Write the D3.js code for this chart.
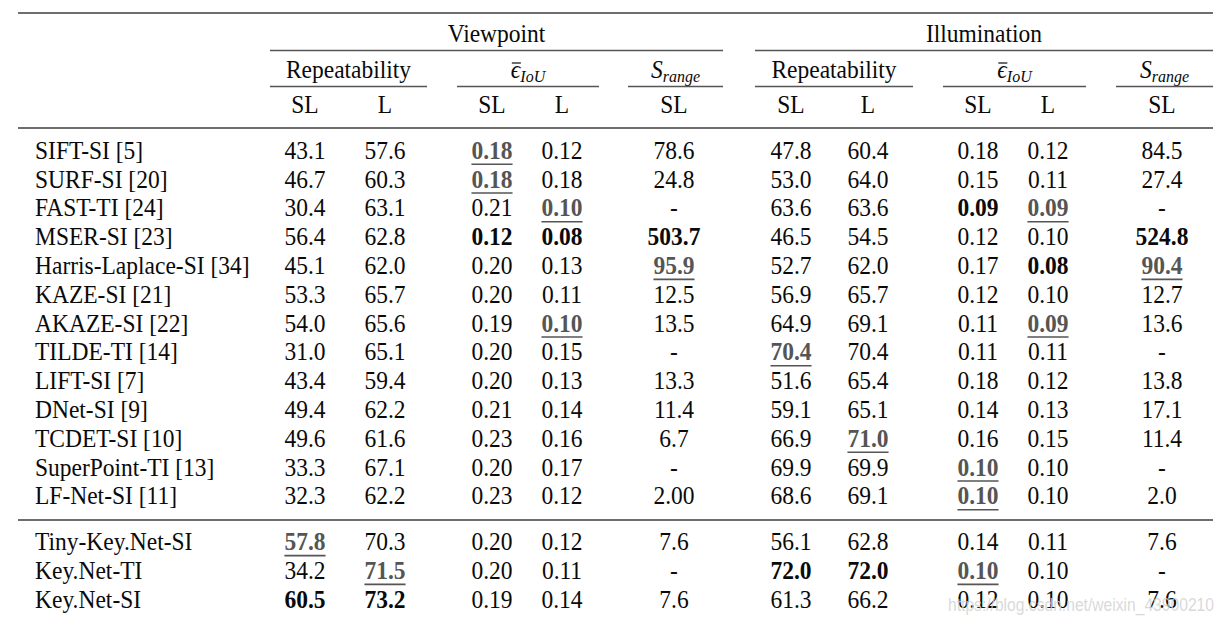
<!DOCTYPE html>
<html><head><meta charset="utf-8">
<script src="https://cdn.jsdelivr.net/npm/d3@7"></script>
<style>html,body{margin:0;padding:0;background:#fff;}svg{display:block;}</style>
</head><body>
<svg id="chart" width="1227" height="625"></svg>
<script>
// ---------- data ----------
const methods = ["SIFT-SI [5]","SURF-SI [20]","FAST-TI [24]","MSER-SI [23]","Harris-Laplace-SI [34]","KAZE-SI [21]","AKAZE-SI [22]","TILDE-TI [14]","LIFT-SI [7]","DNet-SI [9]","TCDET-SI [10]","SuperPoint-TI [13]","LF-Net-SI [11]","Tiny-Key.Net-SI","Key.Net-TI","Key.Net-SI"];
const viewRepSL  = ["43.1","46.7","30.4","56.4","45.1","53.3","54.0","31.0","43.4","49.4","49.6","33.3","32.3","57.8","34.2","60.5"];
const viewRepL   = ["57.6","60.3","63.1","62.8","62.0","65.7","65.6","65.1","59.4","62.2","61.6","67.1","62.2","70.3","71.5","73.2"];
const viewIouSL  = ["0.18","0.18","0.21","0.12","0.20","0.20","0.19","0.20","0.20","0.21","0.23","0.20","0.23","0.20","0.20","0.19"];
const viewIouL   = ["0.12","0.18","0.10","0.08","0.13","0.11","0.10","0.15","0.13","0.14","0.16","0.17","0.12","0.12","0.11","0.14"];
const viewSrange = ["78.6","24.8","-","503.7","95.9","12.5","13.5","-","13.3","11.4","6.7","-","2.00","7.6","-","7.6"];
const illRepSL   = ["47.8","53.0","63.6","46.5","52.7","56.9","64.9","70.4","51.6","59.1","66.9","69.9","68.6","56.1","72.0","61.3"];
const illRepL    = ["60.4","64.0","63.6","54.5","62.0","65.7","69.1","70.4","65.4","65.1","71.0","69.9","69.1","62.8","72.0","66.2"];
const illIouSL   = ["0.18","0.15","0.09","0.12","0.17","0.12","0.11","0.11","0.18","0.14","0.16","0.10","0.10","0.14","0.10","0.12"];
const illIouL    = ["0.12","0.11","0.09","0.10","0.08","0.10","0.09","0.11","0.12","0.13","0.15","0.10","0.10","0.11","0.10","0.10"];
const illSrange  = ["84.5","27.4","-","524.8","90.4","12.7","13.6","-","13.8","17.1","11.4","-","2.0","7.6","-","7.6"];
const columns = [viewRepSL, viewRepL, viewIouSL, viewIouL, viewSrange, illRepSL, illRepL, illIouSL, illIouL, illSrange];
const colHeads = ["SL","L","SL","L","SL","SL","L","SL","L","SL"];
const groups = ["Viewpoint","Illumination"];
// best result (bold) and second best (underlined), as [row, column]
const bestCells = [[3,2],[3,3],[3,4],[3,9],[2,7],[4,8],[14,5],[14,6],[15,0],[15,1]];
const secondCells = [[0,2],[1,2],[2,3],[6,3],[4,4],[4,9],[2,8],[6,8],[7,5],[10,6],[11,7],[12,7],[13,0],[14,1],[14,7]];
const watermark = "https://blog.csdn.net/weixin_43900210";

// ---------- layout ----------
const svg = d3.select("#chart");
const FONT = "'Liberation Serif','Times New Roman',Times,serif";
const FS = 23.5;
const SY = 1.1; // glyphs in the source are slightly taller than wide
const colIdx = d3.range(columns.length);
const x = d3.scaleOrdinal().domain(colIdx).range([305,385,492,562,674,791,868,978,1048,1162]);
const yBase = d3.scaleLinear().domain([0,12]).range([151.7,497.3]);
const y = i => yBase(i) + (i >= 13 ? 17 : 0);
const ruleL = 18, ruleR = 1213;
const ruleColor = "#6e6e6e", grey = "#555", ink = "#0a0a0a";
const tf = (tx,ty) => `translate(${tx},${ty}) scale(1,${SY})`;

function hline(x1,x2,yy,w,c){
  svg.append("line").attr("x1",x1).attr("x2",x2).attr("y1",yy).attr("y2",yy)
    .attr("stroke",c||ruleColor).attr("stroke-width",w||2);
}
hline(ruleL,ruleR,13,2);
hline(ruleL,ruleR,128,2);
hline(ruleL,ruleR,520,2);

// group headers
const groupSpans = [[270,723],[755,1213]];
groups.forEach((g,i)=>{
  const s = groupSpans[i];
  svg.append("text").attr("transform",tf((s[0]+s[1])/2,42)).attr("text-anchor","middle")
    .attr("font-family",FONT).attr("font-size",FS).attr("fill",ink).text(g);
  hline(s[0],s[1],50.5,1.6,grey);
});

// metric headers
const metricSpans = [[270,427,"rep"],[457,599,"iou"],[628,723,"sr"],[755,913,"rep"],[943,1086,"iou"],[1116,1213,"sr"]];
metricSpans.forEach(m=>{
  const cx=(m[0]+m[1])/2;
  const t = svg.append("text").attr("transform",tf(cx,77.5)).attr("text-anchor","middle")
    .attr("font-family",FONT).attr("font-size",FS).attr("fill",ink);
  if(m[2]==="rep"){ t.text("Repeatability"); }
  else if(m[2]==="iou"){
    t.append("tspan").attr("font-style","italic").text("\u03F5");
    t.append("tspan").attr("font-style","italic").attr("font-size",16).attr("dy",4).text("IoU");
    const w = t.node().getComputedTextLength();
    svg.append("line").attr("x1",cx-w/2+1).attr("x2",cx-w/2+10).attr("y1",63).attr("y2",63)
      .attr("stroke",ink).attr("stroke-width",1.2);
  } else {
    t.append("tspan").attr("font-style","italic").text("S");
    t.append("tspan").attr("font-style","italic").attr("font-size",16).attr("dy",4).text("range");
  }
  hline(m[0],m[1],86.5,1.6,grey);
});

// column headers
svg.selectAll("text.colhead").data(colIdx).join("text").attr("class","colhead")
  .attr("transform",d=>tf(x(d),113)).attr("text-anchor","middle")
  .attr("font-family",FONT).attr("font-size",FS).attr("fill",ink).text(d=>colHeads[d]);

// row labels
svg.selectAll("text.method").data(methods).join("text").attr("class","method")
  .attr("transform",(d,i)=>tf(35,y(i)+7)).attr("font-family",FONT).attr("font-size",FS)
  .attr("fill",ink).text(d=>d);

// cells
const key = (r,c)=>r+"_"+c;
const best = new Set(bestCells.map(d=>key(d[0],d[1])));
const second = new Set(secondCells.map(d=>key(d[0],d[1])));
const cells = [];
columns.forEach((col,c)=>col.forEach((v,r)=>cells.push({r,c,v})));
const cellSel = svg.selectAll("text.cell").data(cells).join("text").attr("class","cell")
  .attr("transform",d=>tf(x(d.c),y(d.r)+7)).attr("text-anchor","middle")
  .attr("font-family",FONT).attr("font-size",FS)
  .attr("font-weight",d=>(best.has(key(d.r,d.c))||second.has(key(d.r,d.c)))?"bold":"normal")
  .attr("fill",d=>second.has(key(d.r,d.c))?grey:ink)
  .text(d=>d.v);
cellSel.filter(d=>second.has(key(d.r,d.c))).each(function(d){
  const w = this.getComputedTextLength();
  svg.append("line").attr("x1",x(d.c)-w/2).attr("x2",x(d.c)+w/2)
    .attr("y1",y(d.r)+12.5).attr("y2",y(d.r)+12.5).attr("stroke",grey).attr("stroke-width",1.6);
});

// watermark (overlaps the last row, as in the source image)
svg.append("text").attr("x",948).attr("y",611).attr("font-family","'Liberation Sans',Arial,sans-serif")
  .attr("font-size",18).attr("fill","#d2d2d2").attr("fill-opacity",0.85)
  .attr("textLength",266).attr("lengthAdjust","spacingAndGlyphs").text(watermark);
</script>
</body></html>
